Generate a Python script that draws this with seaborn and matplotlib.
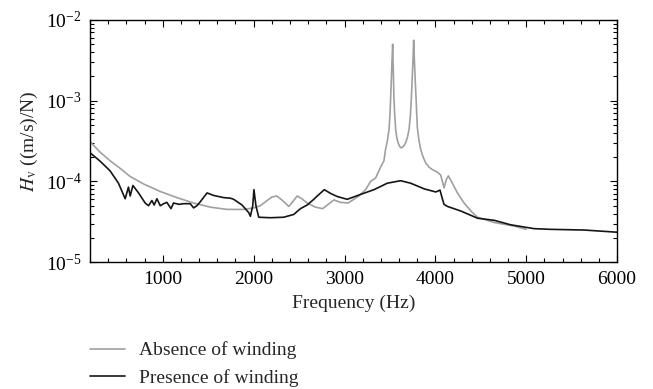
import numpy as np
import pandas as pd
import matplotlib
matplotlib.use("Agg")
import matplotlib.pyplot as plt
import seaborn as sns
from matplotlib.ticker import MultipleLocator, LogLocator, FixedLocator
from matplotlib.lines import Line2D

# ---- data ----
absence_freq = [200, 310, 420, 531, 641, 788, 972, 1156, 1339, 1523, 1707, 1890, 2000,
                2074, 2148, 2200, 2255, 2310, 2387, 2440, 2479, 2530, 2589, 2680, 2760,
                2830, 2883, 2956, 3040, 3158, 3232, 3287, 3342, 3397, 3434, 3452, 3472,
                3490, 3500, 3508, 3516, 3523, 3530, 3536, 3544, 3552, 3563, 3575, 3590,
                3607, 3625, 3648, 3673, 3692, 3710, 3725, 3736, 3746, 3754, 3761, 3769,
                3778, 3787, 3795, 3802, 3818, 3838, 3865, 3893, 3930, 3967, 4022, 4059,
                4095, 4120, 4143, 4187, 4243, 4316, 4400, 4464, 4647, 4867, 5000]
absence_H = [3.1e-4, 2.3e-4, 1.8e-4, 1.45e-4, 1.15e-4, 9.3e-5, 7.5e-5, 6.3e-5, 5.4e-5,
             4.8e-5, 4.5e-5, 4.5e-5, 4.7e-5, 5.0e-5, 5.8e-5, 6.4e-5, 6.6e-5, 5.9e-5,
             4.9e-5, 5.8e-5, 6.6e-5, 6.1e-5, 5.4e-5, 4.8e-5, 4.6e-5, 5.3e-5, 5.9e-5,
             5.5e-5, 5.4e-5, 6.6e-5, 7.9e-5, 1.0e-4, 1.1e-4, 1.5e-4, 1.8e-4, 2.5e-4,
             3.2e-4, 4.4e-4, 6.5e-4, 1.1e-3, 1.9e-3, 3.2e-3, 5.0e-3, 2.6e-3, 1.1e-3,
             6.8e-4, 4.4e-4, 3.5e-4, 3.0e-4, 2.7e-4, 2.6e-4, 2.7e-4, 3.0e-4, 3.5e-4,
             4.4e-4, 6.5e-4, 1.1e-3, 2.0e-3, 3.3e-3, 5.6e-3, 3.2e-3, 1.8e-3, 1.1e-3,
             6.8e-4, 4.6e-4, 3.3e-4, 2.5e-4, 2.0e-4, 1.7e-4, 1.5e-4, 1.4e-4, 1.3e-4,
             1.2e-4, 8.3e-5, 1.05e-4, 1.17e-4, 9.5e-5, 7.2e-5, 5.4e-5, 4.2e-5, 3.6e-5,
             3.1e-5, 2.8e-5, 2.55e-5]

presence_freq = [200, 310, 420, 512, 586, 622, 641, 671, 733, 806, 843, 880, 905, 935, 972,
                 1010, 1045, 1090, 1118, 1180, 1229, 1302, 1339, 1375, 1413, 1487, 1560,
                 1670, 1744, 1780, 1872, 1946, 1964, 1990, 2003, 2025, 2056, 2185, 2330,
                 2441, 2515, 2589, 2662, 2700, 2778, 2846, 2920, 3030, 3177, 3324, 3471,
                 3618, 3728, 3875, 4004, 4051, 4070, 4095, 4133, 4280, 4464, 4647, 4830,
                 5088, 5272, 5639, 6000]
presence_H = [2.26e-4, 1.78e-4, 1.35e-4, 9.5e-5, 6.1e-5, 8.5e-5, 6.6e-5, 8.9e-5, 7.2e-5,
              5.4e-5, 5.0e-5, 5.8e-5, 5.1e-5, 6.1e-5, 5.0e-5, 5.3e-5, 5.5e-5, 4.6e-5,
              5.4e-5, 5.2e-5, 5.3e-5, 5.3e-5, 4.7e-5, 5.0e-5, 5.6e-5, 7.2e-5, 6.7e-5,
              6.3e-5, 6.2e-5, 6.0e-5, 5.1e-5, 4.1e-5, 3.7e-5, 5.0e-5, 7.9e-5, 5.0e-5,
              3.6e-5, 3.55e-5, 3.6e-5, 3.9e-5, 4.6e-5, 5.1e-5, 6.0e-5, 6.6e-5, 7.9e-5,
              7.1e-5, 6.5e-5, 6.0e-5, 6.9e-5, 7.9e-5, 9.5e-5, 1.02e-4, 9.5e-5, 8.1e-5,
              7.4e-5, 7.8e-5, 6.5e-5, 5.2e-5, 4.9e-5, 4.3e-5, 3.5e-5, 3.3e-5, 2.9e-5,
              2.6e-5, 2.55e-5, 2.5e-5, 2.35e-5]

labels = ["Absence of winding", "Presence of winding"]
xticks = [1000, 2000, 3000, 4000, 5000, 6000]

# ---- styling ----
sns.set_theme(style="ticks")
plt.rcParams["font.family"] = ["Liberation Serif", "DejaVu Serif"]
plt.rcParams["mathtext.fontset"] = "stix"
plt.rcParams["axes.unicode_minus"] = True

gray = "#a0a0a0"
black = "#151515"
fs = 14

df = pd.concat([
    pd.DataFrame({"freq": absence_freq, "H": absence_H, "cond": labels[0]}),
    pd.DataFrame({"freq": presence_freq, "H": presence_H, "cond": labels[1]}),
], ignore_index=True)

fig = plt.figure(figsize=(6.53, 3.89), dpi=100)
ax = fig.add_axes([0.138, 0.326, 0.807, 0.623])

sns.lineplot(data=df, x="freq", y="H", hue="cond", palette={labels[0]: gray, labels[1]: black},
             estimator=None, sort=False, ax=ax, legend=False, linewidth=1.2)

ax.set_yscale("log")
ax.set_xlim(200, 6000)
ax.set_ylim(1e-5, 1e-2)
ax.xaxis.set_major_locator(FixedLocator(xticks))
ax.xaxis.set_minor_locator(MultipleLocator(200))
ax.yaxis.set_major_locator(LogLocator(base=10, numticks=10))
ax.yaxis.set_minor_locator(LogLocator(base=10, subs=np.arange(2, 10), numticks=20))

ax.tick_params(which="both", direction="in", top=True, right=True, colors="black",
               labelsize=fs, width=0.8)
ax.tick_params(which="major", length=5, pad=6)
ax.tick_params(which="minor", length=3)
for s in ax.spines.values():
    s.set_color("black")
    s.set_linewidth(1.0)

ax.set_xlabel("Frequency (Hz)", fontsize=fs, labelpad=5)
ax.set_ylabel(r"$H_{\mathrm{v}}$ ((m/s)/N)", fontsize=fs, labelpad=4)

handles = [Line2D([], [], color=gray, lw=1.2), Line2D([], [], color=black, lw=1.2)]
fig.legend(handles, labels, loc="upper left", bbox_to_anchor=(0.138, 0.122),
           frameon=False, borderpad=0, borderaxespad=0, handlelength=1.8,
           handletextpad=0.7, labelspacing=0.5, fontsize=fs)

fig.savefig("out.png", dpi=100)
